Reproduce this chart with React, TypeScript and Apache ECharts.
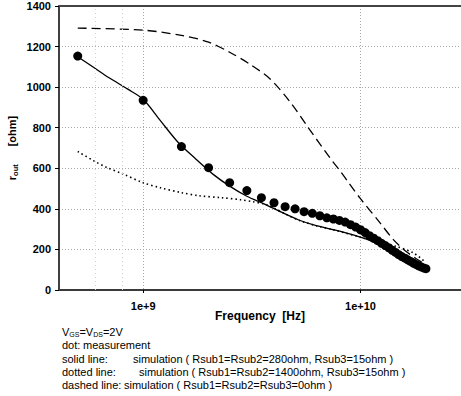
import React, { useEffect, useRef } from "react";
import * as echarts from "echarts";

// ---- data (frequency in GHz, r_out in ohm) ----
const measFreqGHz = [0.5, 1, 1.5, 2, 2.5, 3, 3.5, 4, 4.5, 5, 5.5, 6, 6.5, 7, 7.5, 8, 8.5, 9, 9.5, 10, 10.5, 11, 11.5, 12, 12.5, 13, 13.5, 14, 14.5, 15, 15.5, 16, 16.5, 17, 17.5, 18, 18.5, 19, 19.5, 20];
const measOhm = [1153, 935, 707, 603, 529, 490, 455, 430, 411, 400, 386, 378, 366, 356, 350, 343, 335, 322, 310, 297, 283, 268, 255, 243, 230, 219, 208, 196, 185, 174, 165, 157, 149, 141, 133, 126, 119, 114, 109, 105];

const solidFreqGHz = [0.5, 0.6, 0.7, 0.85, 1, 1.2, 1.45, 1.75, 2.1, 2.5, 3, 3.6, 4.3, 5.2, 6.2, 7.5, 9, 10.8, 13, 15.6, 18.7, 20];
const solidOhm = [1150, 1093, 1045, 990, 940, 835, 727, 645, 570, 512, 462, 425, 385, 345, 318, 297, 275, 248, 212, 164, 119, 104];

const dottedFreqGHz = [0.5, 0.59, 0.68, 0.8, 1, 1.2, 1.5, 1.8, 2.3, 2.8, 3.2, 3.7, 4.5, 5.3, 6.3, 7.5, 10, 12.5, 14.8, 17.5, 19.5];
const dottedOhm = [683, 638, 604, 574, 529, 504, 480, 465, 455, 445, 435, 420, 375, 341, 316, 297, 260, 233, 213, 183, 145];

const dashedFreqGHz = [0.5, 1, 1.5, 2, 2.5, 3.1, 3.85, 4.76, 5.7, 7.25, 8.1, 8.8, 10, 12.3, 14.2, 16, 18, 20];
const dashedOhm = [1291, 1281, 1255, 1222, 1172, 1113, 1039, 925, 806, 650, 584, 530, 450, 331, 247, 195, 155, 125];

const xTickValues = [1e9, 1e10];
const xTickLabels = ["1e+9", "1e+10"];
const minorGridFreq = [6e8, 8e8];
const yTicks = [0, 200, 400, 600, 800, 1000, 1200, 1400];

const X_MIN = 4.1e8;
const X_MAX = 2.9e10;

const FONT = "'Liberation Sans', Arial, sans-serif";

const pairs = (f: number[], v: number[]) => f.map((g, i) => [g * 1e9, v[i]]);

export default function App() {
  const ref = useRef<HTMLDivElement>(null);
  useEffect(() => {
    const chart = echarts.init(ref.current!, null, { renderer: "svg" });
    const gridLine = { show: true, lineStyle: { color: "#a8a8a8", type: [1, 2], width: 1 } };
    chart.setOption({
      animation: false,
      backgroundColor: "#fff",
      grid: { left: 59, right: 0, top: 6, bottom: 106, containLabel: false, outerBoundsMode: "none" },
      xAxis: [
        {
          type: "log",
          logBase: 10,
          min: X_MIN,
          max: X_MAX,
          position: "bottom",
          axisLine: { show: true, onZero: false, lineStyle: { color: "#3a3a3a", width: 2 } },
          axisTick: { show: true, customValues: xTickValues, length: 3, lineStyle: { color: "#000" } },
          axisLabel: {
            customValues: xTickValues,
            formatter: (v: number) => {
              let best = 0;
              xTickValues.forEach((t, i) => {
                if (Math.abs(Math.log10(t) - Math.log10(v)) < Math.abs(Math.log10(xTickValues[best]) - Math.log10(v))) best = i;
              });
              return xTickLabels[best];
            },
            fontFamily: FONT,
            fontWeight: "bold",
            fontSize: 11,
            color: "#000",
            margin: 10,
          },
          splitLine: gridLine,
          minorTick: { show: false },
          name: "Frequency  [Hz]",
          nameLocation: "middle",
          nameGap: 20,
          nameMoveOverlap: false,
          nameTextStyle: { fontFamily: FONT, fontWeight: "bold", fontSize: 12, color: "#000" },
        },
        {
          type: "log",
          logBase: 10,
          min: X_MIN,
          max: X_MAX,
          position: "top",
          axisLine: { show: true, onZero: false, lineStyle: { color: "#444", width: 2 } },
          axisTick: { show: false },
          axisLabel: { show: false },
          splitLine: { show: false },
        },
      ],
      yAxis: {
        type: "value",
        min: yTicks[0],
        max: yTicks[yTicks.length - 1],
        interval: 200,
        axisLine: { show: true, lineStyle: { color: "#000", width: 1.5 } },
        axisTick: { show: true, length: 4, lineStyle: { color: "#000" } },
        axisLabel: {
          fontFamily: FONT,
          fontWeight: "bold",
          fontSize: 11,
          color: "#000",
          margin: 8,
          formatter: (v: number) => String(v),
        },
        splitLine: gridLine,
        name: "{r|r}{s|out}{b|[ohm]}",
        nameLocation: "middle",
        nameRotate: 90,
        nameGap: 40,
        nameMoveOverlap: false,
        nameTextStyle: {
          rich: {
            r: { fontFamily: FONT, fontWeight: "bold", fontSize: 11, color: "#000" },
            s: { fontFamily: FONT, fontWeight: "bold", fontSize: 7.5, color: "#000", padding: [6, 0, 0, 0] },
            b: { fontFamily: FONT, fontWeight: "bold", fontSize: 11, color: "#000", padding: [0, 0, 0, 18] },
          },
        },
      },
      series: [
        {
          type: "line",
          data: pairs(dashedFreqGHz, dashedOhm),
          smooth: 0.3,
          showSymbol: false,
          lineStyle: { color: "#000", width: 1.3, type: [9, 5] },
          z: 2,
        },
        {
          type: "line",
          data: pairs(solidFreqGHz, solidOhm),
          smooth: 0.3,
          showSymbol: false,
          lineStyle: { color: "#000", width: 1.3, type: "solid" },
          z: 2,
        },
        {
          type: "line",
          data: pairs(dottedFreqGHz, dottedOhm),
          smooth: 0.3,
          showSymbol: false,
          lineStyle: { color: "#000", width: 1.6, type: [1.5, 3] },
          z: 2,
        },
        {
          type: "scatter",
          data: pairs(measFreqGHz, measOhm),
          symbol: "circle",
          symbolSize: 9,
          itemStyle: { color: "#000", opacity: 1 },
          z: 3,
          markLine: {
            silent: true,
            symbol: "none",
            label: { show: false },
            lineStyle: { color: "#cfcfcf", type: [1, 3], width: 1 },
            data: minorGridFreq.map((f) => ({ xAxis: f })),
          },
        },
      ],
      graphic: [
        {
          type: "text",
          left: 62,
          top: 326,
          style: {
            text: "{n|V}{s|GS}{n|=V}{s|DS}{n|=2V}",
            rich: {
              n: { fontFamily: FONT, fontSize: 11, fill: "#000" },
              s: { fontFamily: FONT, fontSize: 7, fill: "#000", padding: [5, 0, 0, 0] },
            },
          },
        },
        { type: "text", left: 62, top: 339, style: { text: "dot:", font: `11px ${FONT}`, fill: "#000" } },
        { type: "text", left: 83, top: 339, style: { text: "measurement", font: `11px ${FONT}`, fill: "#000" } },
        { type: "text", left: 62, top: 353, style: { text: "solid line:", font: `11px ${FONT}`, fill: "#000" } },
        { type: "text", left: 133, top: 353, style: { text: "simulation ( Rsub1=Rsub2=280ohm, Rsub3=15ohm )", font: `11px ${FONT}`, fill: "#000" } },
        { type: "text", left: 62, top: 366, style: { text: "dotted line:", font: `11px ${FONT}`, fill: "#000" } },
        { type: "text", left: 139, top: 366, style: { text: "simulation ( Rsub1=Rsub2=1400ohm, Rsub3=15ohm )", font: `11px ${FONT}`, fill: "#000" } },
        { type: "text", left: 62, top: 379, style: { text: "dashed line:", font: `11px ${FONT}`, fill: "#000" } },
        { type: "text", left: 124, top: 379, style: { text: "simulation ( Rsub1=Rsub2=Rsub3=0ohm )", font: `11px ${FONT}`, fill: "#000" } },
      ],
    });
    return () => chart.dispose();
  }, []);
  return (
    <div
      ref={ref}
      style={{ position: "absolute", left: 0, top: 0, width: 461, height: 396, background: "#fff" }}
    />
  );
}
